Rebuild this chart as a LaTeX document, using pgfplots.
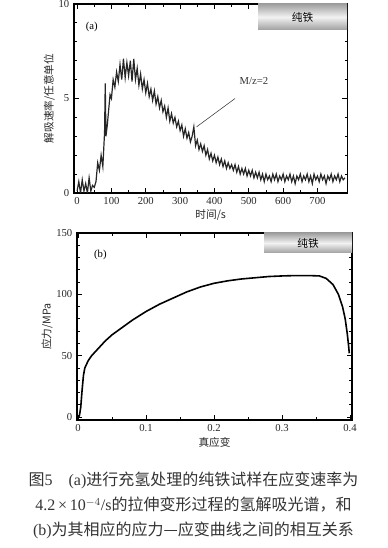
\documentclass[border=0pt]{standalone}
\usepackage{fontspec}
\setmainfont{Liberation Serif}
\newfontfamily\cjk{Noto Sans CJK SC}
\usepackage{pgfplots}
\pgfplotsset{compat=1.18}
\pgfplotsset{common/.style={
  scale only axis, axis line style={line width=1.2pt},
  tick style={black, line width=0.6pt}, major tick length=4pt, minor tick length=2pt,
  tick align=inside, xtick pos=both, ytick pos=both,
  ticklabel style={font=\fontsize{8}{9}\selectfont, text=black!85},
  /pgf/number format/assume math mode=true,
  label style={font=\cjk\fontsize{8}{9}\selectfont, text=black!85},
}}
\begin{document}
\begin{tikzpicture}[x=0.75pt,y=0.75pt]
\useasboundingbox (0,0) rectangle (387,548);
% ---------- panel (a)
\begin{axis}[common, at={(55.5pt,266.25pt)}, anchor=south west, width=205pt, height=141.75pt,
  xmin=-9, xmax=787, ymin=0, ymax=10,
  xtick={0,100,...,700}, minor x tick num=1,
  ytick={0,5,10}, minor y tick num=4,
  xlabel={时间/s}, ylabel={解吸速率/任意单位},
  xlabel style={yshift=3pt}, ylabel style={yshift=-4pt}]
\addplot[black!85, line width=0.9pt] coordinates {
(0,0.1)(5,0.6)(10,0.0)(15,0.7)(20,0.1)(25,0.5)(30,0.0)(35,0.8)(40,0.1)(45,0.4)
(50,0.3)(55,0.6)(60,1.6)(65,1.2)(70,2.0)(75,1.4)(80,3.2)(82,5.8)(84,3.0)(88,3.6)
(92,4.4)(96,5.2)(100,5.0)(105,6.0)(110,5.6)(115,6.4)(120,5.9)(125,6.8)(130,6.0)(135,7.1)
(140,6.1)(145,6.9)(150,6.2)(155,7.0)(160,5.9)(165,7.1)(170,6.0)(175,6.6)(180,5.7)(185,6.3)
(190,5.5)(195,6.0)(200,5.3)(205,5.8)(210,5.1)(215,5.5)(220,4.9)(225,5.4)(230,4.7)(235,5.1)
(240,4.5)(245,4.9)(250,4.3)(255,4.6)(260,4.0)(265,4.5)(270,3.8)(275,4.2)(280,3.7)(285,4.0)
(290,3.5)(295,3.8)(300,3.3)(305,3.6)(310,3.0)(315,3.4)(320,2.9)(325,3.2)(330,2.7)(335,3.0)
(340,3.5)(345,2.5)(350,2.8)(355,2.3)(360,2.6)(365,2.2)(370,2.5)(375,2.0)(380,2.3)(385,1.8)
(390,2.1)(395,1.7)(400,2.0)(405,1.6)(410,1.9)(415,1.5)(420,1.8)(425,1.4)(430,1.7)(435,1.3)
(440,1.6)(445,1.3)(450,1.5)(455,1.2)(460,1.5)(465,1.1)(470,1.4)(475,1.0)(480,1.3)(485,1.0)
(490,1.3)(495,0.9)(500,1.2)(505,0.9)(510,1.2)(515,0.8)(520,1.1)(525,0.8)(530,1.1)(535,0.7)
(540,1.0)(545,0.6)(550,1.0)(555,0.7)(560,0.9)(565,0.6)(570,1.0)(575,0.7)(580,1.0)(585,0.6)
(590,0.9)(595,0.7)(600,1.0)(605,0.6)(610,0.9)(615,0.7)(620,1.0)(625,0.6)(630,0.9)(635,0.5)
(640,0.9)(645,0.7)(650,1.0)(655,0.6)(660,0.9)(665,0.7)(670,1.0)(675,0.6)(680,0.9)(685,0.5)
(690,1.0)(695,0.7)(700,0.9)(705,0.6)(710,1.0)(715,0.7)(720,0.9)(725,0.5)(730,0.9)(735,0.7)
(740,1.0)(745,0.6)(750,0.9)(755,0.7)(760,1.0)(765,0.6)(770,0.9)(775,0.7)(780,0.8)};
\node[font=\fontsize{8}{9}\selectfont, text=black!80] at (axis cs:515,5.9) {M/z=2};
\draw[black!80, line width=0.4pt] (axis cs:460,5.0) -- (axis cs:348,3.5);
\node[font=\fontsize{8}{9}\selectfont] at (rel axis cs:0.065,0.88) {(a)};
\end{axis}
\shade[top color=gray!75, bottom color=gray!75, middle color=gray!10] (258,544) rectangle (347,518);
\node[font=\cjk\fontsize{8}{9}\selectfont] at (302.5,531) {纯铁};
% ---------- panel (b)
\begin{axis}[common, at={(57.75pt,96pt)}, anchor=south west, width=206.25pt, height=140.25pt,
  xmin=-0.0015, xmax=0.403, ymin=-2.4, ymax=150,
  xtick={0,0.1,0.2,0.3,0.4}, minor x tick num=1,
  ytick={0,50,100,150}, minor y tick num=4,
  xlabel={真应变}, ylabel={应力/MPa},
  xlabel style={yshift=3pt}, ylabel style={yshift=-4pt}]
\addplot[black, line width=1.2pt] coordinates {
(0,0)(0.002,1)(0.004,8)(0.006,22)(0.008,34)(0.010,40)(0.015,46)(0.02,50)(0.03,56)
(0.04,62)(0.05,67)(0.06,71)(0.08,79)(0.10,86)(0.12,92)(0.14,97)(0.16,102)(0.18,106)
(0.20,109)(0.22,111)(0.24,112.5)(0.26,113.5)(0.28,114.5)(0.30,115)(0.32,115.3)(0.34,115.3)
(0.355,115)(0.365,113)(0.375,108)(0.383,100)(0.389,90)(0.393,80)(0.396,68)(0.398,58)(0.399,52)};
\node[font=\fontsize{8}{9}\selectfont] at (rel axis cs:0.085,0.88) {(b)};
\end{axis}
\shade[top color=gray!75, bottom color=gray!75, middle color=gray!10] (264,315) rectangle (352,295);
\node[font=\cjk\fontsize{8}{9}\selectfont] at (308,305) {纯铁};
% ---------- caption
\begin{scope}[every node/.style={text=black!80, font=\fontsize{12}{14}\selectfont}]
\node at (193.5,68) {{\cjk 图}5\quad(a){\cjk 进行充氢处理的纯铁试样在应变速率为}};
\node at (193.5,43) {4.2\,×\,10$^{-4}$/s{\cjk 的拉伸变形过程的氢解吸光谱，和}};
\node at (193.5,18) {(b){\cjk 为其相应的应力—应变曲线之间的相互关系}};
\end{scope}
\end{tikzpicture}
\end{document}
